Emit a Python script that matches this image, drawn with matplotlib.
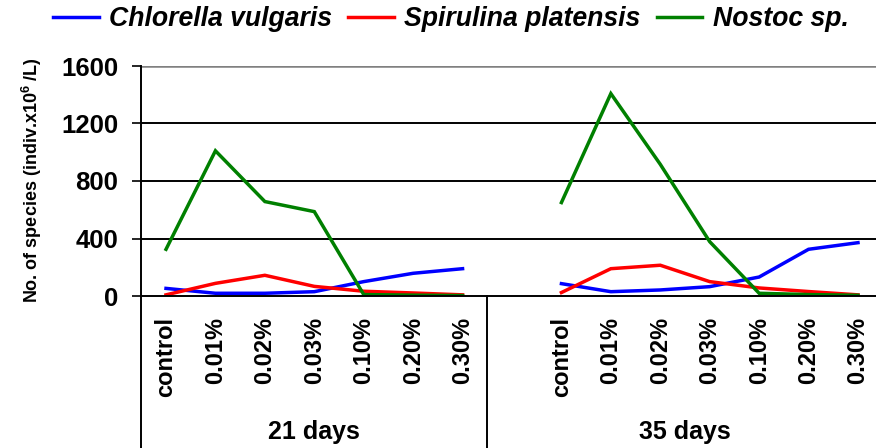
import numpy as np
import matplotlib
matplotlib.use("Agg")
import matplotlib.pyplot as plt

FAM = "Liberation Sans"
plt.rcParams['font.family'] = [FAM, 'DejaVu Sans']
plt.rcParams['font.weight'] = 'bold'
plt.rcParams['mathtext.fontset'] = 'custom'
plt.rcParams['mathtext.bf'] = FAM + ':bold'
plt.rcParams['mathtext.rm'] = FAM + ':bold'
plt.rcParams['mathtext.default'] = 'bf'

categories = ["control", "0.01%", "0.02%", "0.03%", "0.10%", "0.20%", "0.30%"]
groups = ["21 days", "35 days"]
series = ["Chlorella vulgaris", "Spirulina platensis", "Nostoc sp."]
colors = ["#0000FF", "#FF0000", "#008000"]

chlorella_21 = [53, 19, 19, 30, 100, 158, 190]
spirulina_21 = [8, 88, 144, 67, 33, 21, 8]
nostoc_21 = [325, 1010, 657, 587, 10, 6, 3]

chlorella_35 = [86, 30, 42, 65, 132, 325, 371]
spirulina_35 = [24, 190, 214, 100, 56, 31, 8]
nostoc_35 = [650, 1408, 916, 378, 19, 10, 5]

yticks = [0, 400, 800, 1200, 1600]

W, H = 876, 448
fig = plt.figure(figsize=(W / 100, H / 100), dpi=100)
L, R, T, B = 141.3, 882.7, 66, 296
ax = fig.add_axes([L / W, 1 - B / H, (R - L) / W, (B - T) / H])

n = len(categories)
x21 = np.arange(n)
x35 = np.arange(n) + n + 1
data21 = [chlorella_21, spirulina_21, nostoc_21]
data35 = [chlorella_35, spirulina_35, nostoc_35]
handles = []
for s, c, d21, d35 in zip(series, colors, data21, data35):
    h, = ax.plot(x21, d21, color=c, lw=2.5, solid_joinstyle='miter')
    ax.plot(x35, d35, color=c, lw=2.5, solid_joinstyle='miter')
    handles.append(h)

ax.set_xlim(-0.5, 2 * n + 0.5)
ax.set_ylim(0, 1600)
ax.set_yticks(yticks)
ax.set_yticklabels([str(v) for v in yticks], fontsize=18.5, fontweight='bold')
for v in yticks[1:-1]:
    ax.axhline(v, color='black', lw=1.4, zorder=0)
ax.axhline(1600, color='#808080', lw=1.8, zorder=0)

ax.set_xticks(list(x21) + list(x35))
ax.set_xticklabels(categories + categories, rotation=90, fontsize=17, fontweight='bold')
ax.tick_params(axis='x', length=0, pad=15)
ax.tick_params(axis='y', length=6.5, width=1.2, direction='out', pad=10)

for sp in ['top', 'right']:
    ax.spines[sp].set_visible(False)
ax.spines['left'].set_linewidth(1.4)
ax.spines['bottom'].set_linewidth(1.4)

tr = ax.get_xaxis_transform()
ylow = -(H - B) / (B - T)
bounds = [-0.5, n - 0.5, 2 * n + 0.5]
for xv in bounds:
    ax.plot([xv, xv], [0, ylow], transform=tr, color='black', lw=1.4, clip_on=False)

ygrp = -(432 - B) / (B - T)
for g, a, b in zip(groups, bounds[:-1], bounds[1:]):
    ax.text((a + b) / 2, ygrp, g, transform=tr, ha='center', va='center',
            fontsize=18, fontweight='bold')

fig.text(32 / W, 1 - 180 / H, "No. of species (indiv.x10$^{6}$ /L)", rotation=90,
         ha='center', va='center', fontsize=13, fontweight='bold')

leg = fig.legend(handles, series, loc='center', bbox_to_anchor=(451 / W, 1 - 19 / H),
                 ncol=3, frameon=False, handlelength=1.7, handletextpad=0.4, columnspacing=0.6,
                 prop={'family': [FAM, 'DejaVu Sans'], 'weight': 'bold', 'style': 'italic', 'size': 19.2})

fig.savefig("out.png", dpi=100)
